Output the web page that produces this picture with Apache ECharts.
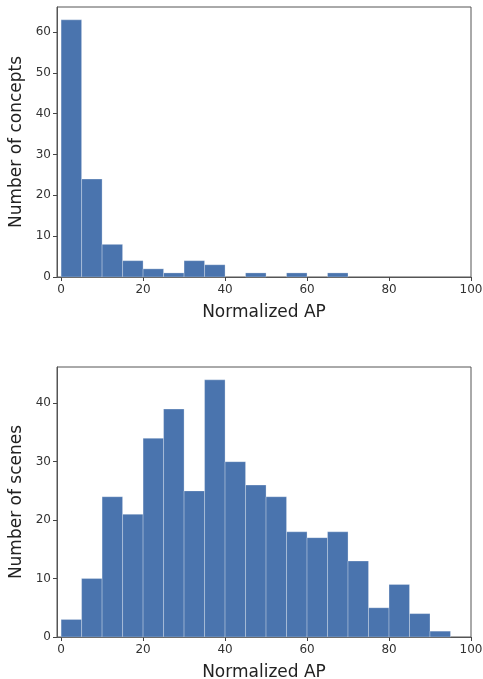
<!DOCTYPE html>
<html>
<head>
<meta charset="utf-8">
<script src="https://cdn.jsdelivr.net/npm/echarts@6/dist/echarts.min.js"></script>
<style>
  html, body { margin: 0; padding: 0; background: #fff; }
  #chart { width: 483px; height: 679px; }
</style>
</head>
<body>
<div id="chart"></div>
<script>
// histogram bins (width 5) and counts
const binWidth = 5;
const conceptCounts = [63, 24, 8, 4, 2, 1, 4, 3, 0, 1, 0, 1, 0, 1];
const sceneCounts = [3, 10, 24, 21, 34, 39, 25, 44, 30, 26, 24, 18, 17, 18, 13, 5, 9, 4, 1];
const xTicks = [0, 20, 40, 60, 80, 100];
const conceptTicks = [0, 10, 20, 30, 40, 50, 60];
const sceneTicks = [0, 10, 20, 30, 40];

const toBins = counts => counts.map((c, i) => [i * binWidth, (i + 1) * binWidth, c]);

const barColor = '#4a74ae';
const font = 'DejaVu Sans';

function renderBin(params, api) {
    if (!api.value(2)) return null; // empty bin, nothing to draw
    const p0 = api.coord([api.value(0), api.value(2)]);
    const p1 = api.coord([api.value(1), 0]);
    return {
        type: 'rect',
        shape: { x: p0[0], y: p0[1], width: p1[0] - p0[0], height: p1[1] - p0[1] },
        style: { fill: barColor, stroke: 'rgba(255,255,255,0.35)', lineWidth: 0.8 }
    };
}

function xAxisCfg(gridIndex) {
    return {
        type: 'value', gridIndex, min: -1, max: 100,
        name: 'Normalized AP', nameLocation: 'middle', nameGap: 27,
        nameTextStyle: { fontFamily: font, fontSize: 17, color: '#222' },
        splitLine: { show: false },
        axisLine: { show: true, onZero: false, lineStyle: { color: '#555', width: 1 } },
        axisTick: { show: true, length: 4, customValues: xTicks, lineStyle: { color: '#444' } },
        axisLabel: { customValues: xTicks, fontFamily: font, fontSize: 12, color: '#333', margin: 7 }
    };
}

function yAxisCfg(gridIndex, max, ticks, name) {
    return {
        type: 'value', gridIndex, min: 0, max,
        name, nameLocation: 'middle', nameGap: 30,
        nameTextStyle: { fontFamily: font, fontSize: 17, color: '#222' },
        splitLine: { show: false },
        axisLine: { show: true, onZero: false, lineStyle: { color: '#555', width: 1 } },
        axisTick: { show: true, length: 4, customValues: ticks, lineStyle: { color: '#444' } },
        axisLabel: { customValues: ticks, fontFamily: font, fontSize: 12, color: '#333', margin: 6 }
    };
}

const chart = echarts.init(document.getElementById('chart'));
chart.setOption({
    animation: false,
    backgroundColor: '#fff',
    grid: [
        { left: 57, top: 7, width: 414, height: 270, outerBoundsMode: 'none',
          show: true, borderColor: '#555', borderWidth: 1 },
        { left: 57, top: 367, width: 414, height: 270, outerBoundsMode: 'none',
          show: true, borderColor: '#555', borderWidth: 1 }
    ],
    xAxis: [xAxisCfg(0), xAxisCfg(1)],
    yAxis: [
        yAxisCfg(0, 66.15, conceptTicks, 'Number of concepts'),
        yAxisCfg(1, 46.2, sceneTicks, 'Number of scenes')
    ],
    series: [
        { type: 'custom', xAxisIndex: 0, yAxisIndex: 0, renderItem: renderBin,
          encode: { x: [0, 1], y: 2 }, data: toBins(conceptCounts) },
        { type: 'custom', xAxisIndex: 1, yAxisIndex: 1, renderItem: renderBin,
          encode: { x: [0, 1], y: 2 }, data: toBins(sceneCounts) }
    ]
});
</script>
</body>
</html>
